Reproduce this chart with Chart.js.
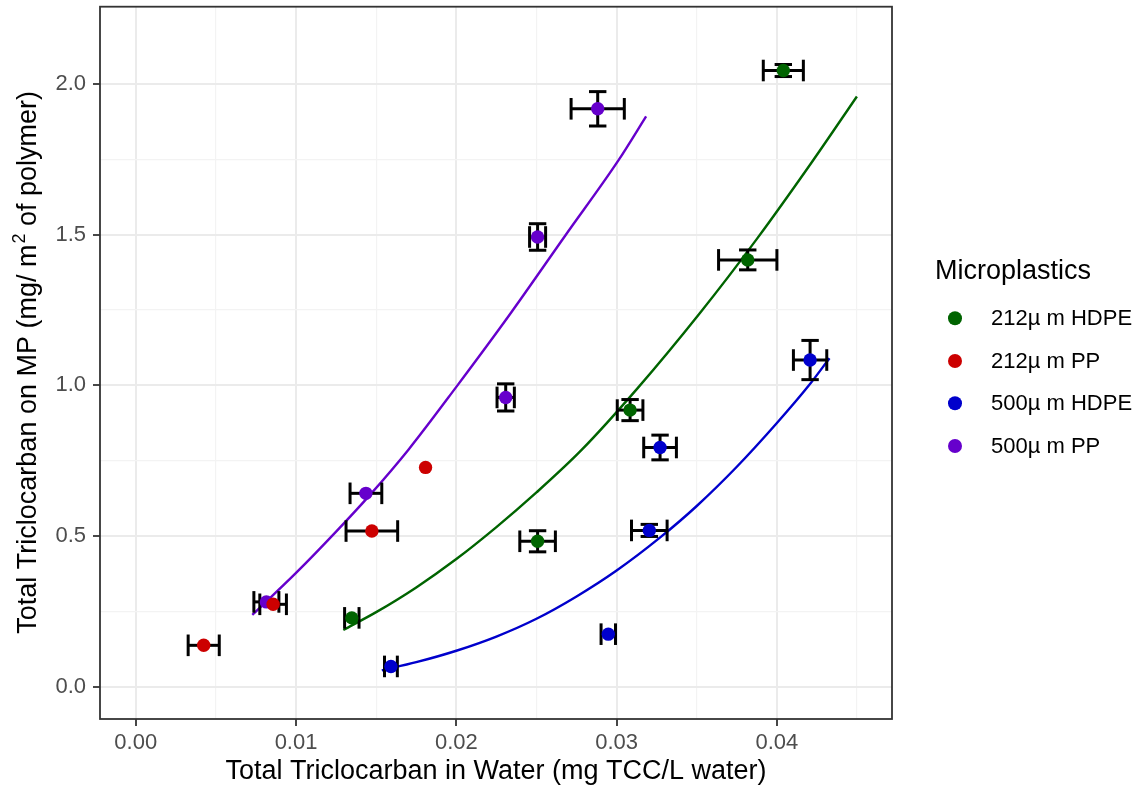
<!DOCTYPE html>
<html>
<head>
<meta charset="utf-8">
<script src="https://cdn.jsdelivr.net/npm/chart.js@4.4.0/dist/chart.umd.min.js"></script>
<style>
  html, body { margin: 0; padding: 0; background: #fff; }
  #wrap { width: 1142px; height: 788px; }
</style>
</head>
<body>
<div id="wrap"><canvas id="chart" width="1142" height="788"></canvas></div>
<script>
const seriesNames = ['212µ m HDPE', '212µ m PP', '500µ m HDPE', '500µ m PP'];
const seriesColors = ['#006400', '#CC0000', '#0000CC', '#6600CC'];

// measured points: x = mg TCC/L water, y = mg/m2 of polymer, with +- errors
const hdpe212X = [0.01348, 0.02507, 0.03084, 0.03818, 0.0404];
const hdpe212Y = [0.229, 0.483, 0.918, 1.416, 2.044];
const hdpe212XErr = [0.00045, 0.00111, 0.0008, 0.00182, 0.00125];
const hdpe212YErr = [0, 0.035, 0.035, 0.033, 0.02];

const pp212X = [0.00424, 0.00857, 0.01473, 0.01808];
const pp212Y = [0.138, 0.274, 0.517, 0.728];
const pp212XErr = [0.00097, 0.00083, 0.00161, 0];
const pp212YErr = [0, 0, 0, 0];

const hdpe500X = [0.01592, 0.02948, 0.03204, 0.03271, 0.04207];
const hdpe500Y = [0.068, 0.175, 0.519, 0.794, 1.084];
const hdpe500XErr = [0.0004, 0.00045, 0.00111, 0.00102, 0.00104];
const hdpe500YErr = [0, 0, 0.02, 0.041, 0.065];

const pp500X = [0.00815, 0.01436, 0.02308, 0.02507, 0.02882];
const pp500Y = [0.282, 0.642, 0.960, 1.492, 1.917];
const pp500XErr = [0.00078, 0.00099, 0.00054, 0.0005, 0.00166];
const pp500YErr = [0, 0, 0.045, 0.044, 0.057];

// fitted curves
const hdpe212FitX = [0.01295, 0.015, 0.0175, 0.020, 0.0225, 0.025, 0.0278, 0.0313, 0.0352, 0.03874, 0.04211, 0.04499];
const hdpe212FitY = [0.189, 0.248, 0.33, 0.424, 0.53, 0.645, 0.785, 0.99, 1.24, 1.485, 1.735, 1.958];
const hdpe500FitX = [0.01535, 0.0175, 0.020, 0.0225, 0.025, 0.0275, 0.030, 0.0327, 0.035, 0.0375, 0.040, 0.042, 0.04328];
const hdpe500FitY = [0.055, 0.082, 0.12, 0.167, 0.226, 0.30, 0.386, 0.495, 0.6, 0.73, 0.875, 1.0, 1.09];
const pp500FitX = [0.00727, 0.010, 0.0125, 0.0146, 0.0170, 0.020, 0.0234, 0.0268, 0.0301, 0.03184];
const pp500FitY = [0.239, 0.378, 0.515, 0.636, 0.786, 0.995, 1.24, 1.497, 1.745, 1.892];

const xMajorTicks = [0, 0.01, 0.02, 0.03, 0.04];
const xTickLabels = ['0.00', '0.01', '0.02', '0.03', '0.04'];
const xMinorTicks = [0.005, 0.015, 0.025, 0.035, 0.045];
const yMajorTicks = [0, 0.5, 1, 1.5, 2];
const yTickLabels = ['0.0', '0.5', '1.0', '1.5', '2.0'];
const yMinorTicks = [0.25, 0.75, 1.25, 1.75];

const FONT = "'Liberation Sans', Arial, sans-serif";

function pts(xs, ys) { return xs.map((x, i) => ({ x: x, y: ys[i] })); }

const errSeries = [
  { x: hdpe212X, y: hdpe212Y, xe: hdpe212XErr, ye: hdpe212YErr },
  { x: pp212X, y: pp212Y, xe: pp212XErr, ye: pp212YErr },
  { x: hdpe500X, y: hdpe500Y, xe: hdpe500XErr, ye: hdpe500YErr },
  { x: pp500X, y: pp500Y, xe: pp500XErr, ye: pp500YErr }
];

function isMajor(list, v) {
  return list.some(m => Math.abs(m - v) < 1e-9);
}

function buildTicks(majors, minors) {
  return function(scale) {
    scale.ticks = majors.concat(minors).sort((a, b) => a - b).map(v => ({ value: v }));
  };
}

const errorBars = {
  id: 'errorBars',
  beforeDatasetDraw(chart, args) {
    if (args.index !== 3) return; // once, after the curves and before the points
    const c = chart.ctx, xs = chart.scales.x, ys = chart.scales.y;
    const capH = 10.8, capW = 8.7;
    c.save();
    c.strokeStyle = '#000';
    c.lineWidth = 3;
    c.lineCap = 'butt';
    function seg(x1, y1, x2, y2) { c.beginPath(); c.moveTo(x1, y1); c.lineTo(x2, y2); c.stroke(); }
    errSeries.forEach(s => {
      s.x.forEach((xv, i) => {
        const px = xs.getPixelForValue(xv), py = ys.getPixelForValue(s.y[i]);
        if (s.xe[i] > 0) {
          const l = xs.getPixelForValue(xv - s.xe[i]), r = xs.getPixelForValue(xv + s.xe[i]);
          seg(l, py, r, py);
          seg(l, py - capH, l, py + capH);
          seg(r, py - capH, r, py + capH);
        }
        if (s.ye[i] > 0) {
          const t = ys.getPixelForValue(s.y[i] + s.ye[i]), b = ys.getPixelForValue(s.y[i] - s.ye[i]);
          seg(px, t, px, b);
          seg(px - capW, t, px + capW, t);
          seg(px - capW, b, px + capW, b);
        }
      });
    });
    c.restore();
  }
};

const decorations = {
  id: 'decorations',
  afterDraw(chart) {
    const c = chart.ctx, a = chart.chartArea;
    c.save();
    // panel border
    c.strokeStyle = '#333333';
    c.lineWidth = 1.8;
    c.strokeRect(a.left, a.top, a.right - a.left, a.bottom - a.top);

    // x title
    c.fillStyle = '#000';
    c.font = '27px ' + FONT;
    c.textAlign = 'center';
    c.textBaseline = 'alphabetic';
    c.fillText('Total Triclocarban in Water (mg TCC/L water)', (a.left + a.right) / 2, 779);

    // y title with superscript
    const p1 = 'Total Triclocarban on MP (mg/ m', sup = '2', p2 = ' of polymer)';
    c.save();
    c.translate(36, (a.top + a.bottom) / 2);
    c.rotate(-Math.PI / 2);
    c.textAlign = 'left';
    c.font = '27px ' + FONT;
    const w1 = c.measureText(p1).width, w3 = c.measureText(p2).width;
    c.font = '18px ' + FONT;
    const w2 = c.measureText(sup).width;
    let x0 = -(w1 + w2 + w3) / 2;
    c.font = '27px ' + FONT;
    c.fillText(p1, x0, 0);
    c.font = '18px ' + FONT;
    c.fillText(sup, x0 + w1 + 1, -11);
    c.font = '27px ' + FONT;
    c.fillText(p2, x0 + w1 + w2 + 1, 0);
    c.restore();

    // legend
    c.textAlign = 'left';
    c.font = '27px ' + FONT;
    c.fillText('Microplastics', 935, 279);
    c.font = '22px ' + FONT;
    const rows = [318.3, 361, 403.3, 446];
    seriesNames.forEach((n, i) => {
      c.fillStyle = seriesColors[i];
      c.beginPath();
      c.arc(955, rows[i], 7, 0, Math.PI * 2);
      c.fill();
      c.fillStyle = '#000';
      c.textBaseline = 'middle';
      c.fillText(n, 991, rows[i] + 1);
    });
    c.restore();
  }
};

const scatterSets = [
  [hdpe212X, hdpe212Y], [pp212X, pp212Y], [hdpe500X, hdpe500Y], [pp500X, pp500Y]
].map((d, i) => ({
  label: seriesNames[i],
  data: pts(d[0], d[1]),
  backgroundColor: seriesColors[i],
  borderWidth: 0,
  pointRadius: 6.7,
  pointHoverRadius: 6.7,
  showLine: false
}));

const fitSets = [
  [hdpe212FitX, hdpe212FitY, seriesColors[0]],
  [hdpe500FitX, hdpe500FitY, seriesColors[2]],
  [pp500FitX, pp500FitY, seriesColors[3]]
].map(d => ({
  label: 'fit',
  data: pts(d[0], d[1]),
  borderColor: d[2],
  borderWidth: 2.4,
  pointRadius: 0,
  showLine: true,
  fill: false,
  cubicInterpolationMode: 'monotone'
}));

new Chart(document.getElementById('chart').getContext('2d'), {
  type: 'scatter',
  data: { datasets: scatterSets.concat(fitSets) },
  options: {
    responsive: false,
    animation: false,
    events: [],
    layout: { padding: { top: 6, right: 250, left: 0, bottom: 0 } },
    plugins: { legend: { display: false }, tooltip: { enabled: false } },
    scales: {
      x: {
        type: 'linear',
        min: -0.00223,
        max: 0.04718,
        afterBuildTicks: buildTicks(xMajorTicks, xMinorTicks),
        afterFit: s => { s.height = 69; s.paddingLeft = 0; s.paddingRight = 0; },
        border: { display: false },
        grid: {
          color: ctx => isMajor(xMajorTicks, ctx.tick.value) ? '#EBEBEB' : '#F3F3F3',
          lineWidth: ctx => isMajor(xMajorTicks, ctx.tick.value) ? 2 : 1.2,
          tickColor: ctx => isMajor(xMajorTicks, ctx.tick.value) ? '#333333' : 'rgba(0,0,0,0)',
          tickWidth: 1.8,
          tickLength: 7
        },
        ticks: {
          autoSkip: false,
          maxRotation: 0,
          padding: 4,
          color: '#4D4D4D',
          font: { family: FONT, size: 22 },
          callback: v => {
            const i = xMajorTicks.findIndex(m => Math.abs(m - v) < 1e-9);
            return i >= 0 ? xTickLabels[i] : '';
          }
        }
      },
      y: {
        type: 'linear',
        min: -0.1063,
        max: 2.2556,
        afterBuildTicks: buildTicks(yMajorTicks, yMinorTicks),
        afterFit: s => { s.width = 100; s.paddingTop = 0; s.paddingBottom = 0; },
        border: { display: false },
        grid: {
          color: ctx => isMajor(yMajorTicks, ctx.tick.value) ? '#EBEBEB' : '#F3F3F3',
          lineWidth: ctx => isMajor(yMajorTicks, ctx.tick.value) ? 2 : 1.2,
          tickColor: ctx => isMajor(yMajorTicks, ctx.tick.value) ? '#333333' : 'rgba(0,0,0,0)',
          tickWidth: 1.8,
          tickLength: 7
        },
        ticks: {
          autoSkip: false,
          padding: 7,
          color: '#4D4D4D',
          font: { family: FONT, size: 22 },
          callback: v => {
            const i = yMajorTicks.findIndex(m => Math.abs(m - v) < 1e-9);
            return i >= 0 ? yTickLabels[i] : '';
          }
        }
      }
    }
  },
  plugins: [errorBars, decorations]
});
</script>
</body>
</html>
